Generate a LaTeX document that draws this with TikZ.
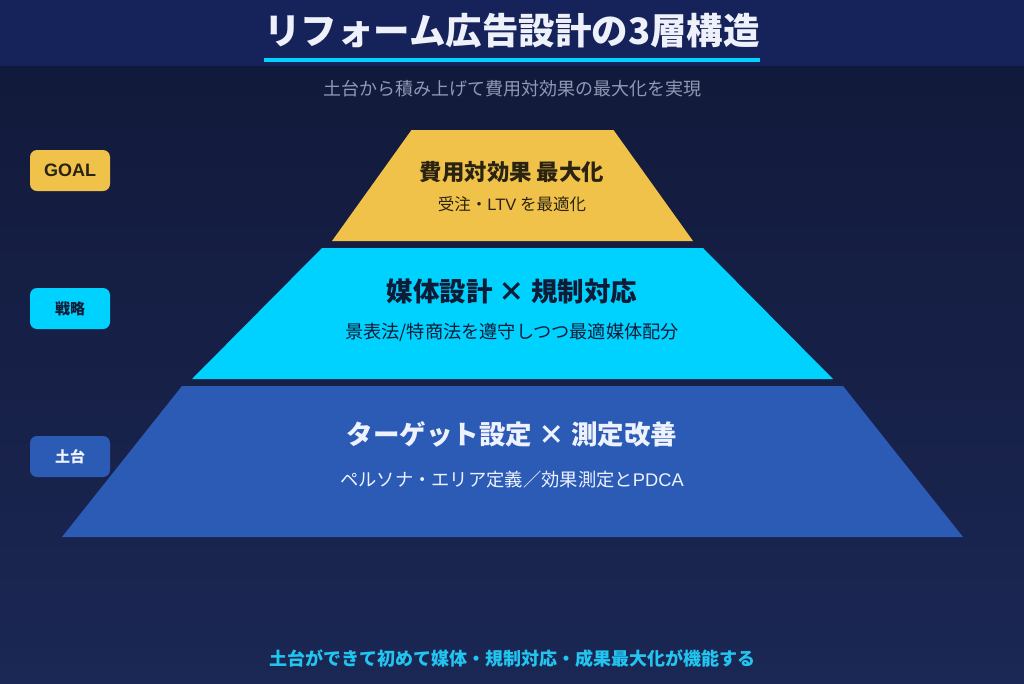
\documentclass[tikz,border=0pt]{standalone}
\usepackage{fontspec}
\setmainfont{Noto Sans CJK JP}
\newfontfamily\lat{Liberation Sans}
\usetikzlibrary{shadings}
\definecolor{hdrbg}{HTML}{16235B}
\definecolor{bodytop}{HTML}{121A3B}
\definecolor{bodybot}{HTML}{1B2754}
\definecolor{goldc}{HTML}{F0C24A}
\definecolor{cyanc}{HTML}{00D2FF}
\definecolor{bluec}{HTML}{2B5BB5}
\definecolor{titlec}{HTML}{EEF1FA}
\definecolor{subc}{HTML}{8E99B5}
\definecolor{goldtxt}{HTML}{2A2312}
\definecolor{cyantxt}{HTML}{0E1C38}
\definecolor{bluetxt}{HTML}{EEF2FF}
\definecolor{btmc}{HTML}{22C4F0}
\newcommand{\fs}[1]{\fontsize{#1}{#1}\selectfont}
\tikzset{
  txt/.style={inner sep=0pt, anchor=center},
  tag/.style={rounded corners=7pt, minimum width=80pt, minimum height=41pt, inner sep=0pt, font=\bfseries\fs{15}},
}
\begin{document}
\begin{tikzpicture}[x=1pt,y=-1pt]
\useasboundingbox (0,0) rectangle (1024,683);
% backgrounds
\shade[top color=bodytop, bottom color=bodybot] (0,66) rectangle (1024,683);
\fill[hdrbg] (0,0) rectangle (1024,66);
\fill[cyanc] (264,58) rectangle (760,62);
% title
\node[txt, text=titlec, font=\bfseries\fs{36.5}] (title) at (512,31) {リフォーム広告設計の3層構造};
\node[txt, text=subc, font=\fs{18}] (sub) at (512,89) {土台から積み上げて費用対効果の最大化を実現};
% pyramid
\fill[goldc] (411.5,130) -- (613.5,130) -- (693,241) -- (332,241) -- cycle;
\fill[cyanc] (322,248) -- (703,248) -- (833,379) -- (192,379) -- cycle;
\fill[bluec] (182,386) -- (843,386) -- (963,537) -- (62,537) -- cycle;
% layer texts
\node[txt, text=goldtxt, font=\bfseries\fs{22.4}] (g1) at (512,172) {費用対効果 最大化};
\node[txt, text=goldtxt, font=\fs{16.5}] (g2) at (512,204) {受注・{\lat LTV} を最適化};
\node[txt, text=cyantxt, font=\bfseries\fs{26.5}] (c1) at (512,291) {媒体設計 × 規制対応};
\node[txt, text=cyantxt, font=\fs{18.2}] (c2) at (512,332) {景表法/特商法を遵守しつつ最適媒体配分};
\node[txt, text=bluetxt, font=\bfseries\fs{26.5}] (b1) at (512,434) {ターゲット設定 × 測定改善};
\node[txt, text=bluetxt, font=\fs{18.3}] (b2) at (512,480) {ペルソナ・エリア定義／効果測定と{\lat PDCA}};
% side tags
\node[tag, fill=goldc, text=goldtxt, font=\lat\bfseries\fs{18}] (tgoal) at (70,170.5) {GOAL};
\node[tag, fill=cyanc, text=cyantxt] (tstr) at (70,308.5) {戦略};
\node[tag, fill=bluec, text=bluetxt] (tbase) at (70,456.5) {土台};
% bottom note
\node[txt, text=btmc, font=\bfseries\fs{18}] (note) at (512,659) {土台ができて初めて媒体・規制対応・成果最大化が機能する};
\end{tikzpicture}
\end{document}
